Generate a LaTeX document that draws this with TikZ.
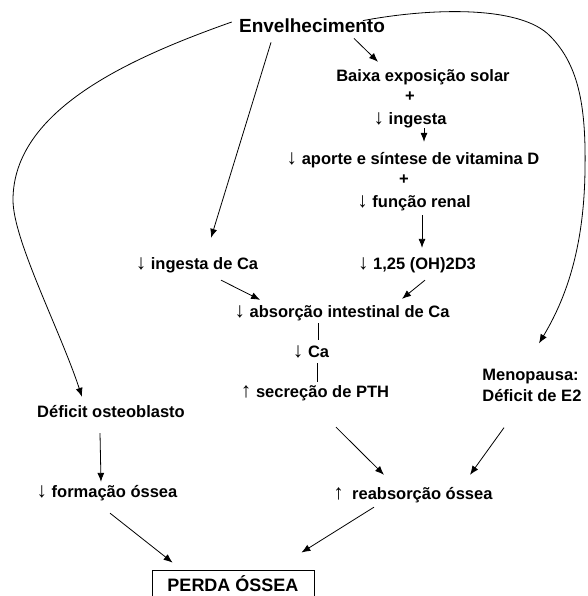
\documentclass[tikz,border=0pt]{standalone}
\usepackage{fontspec}
\setmainfont{Liberation Sans}
\usetikzlibrary{arrows.meta}
\newcommand{\dnarr}{{\mdseries\fontsize{21}{21}\selectfont ↓}}
\newcommand{\uparr}{{\mdseries\fontsize{21}{21}\selectfont ↑}}

\begin{document}
\begin{tikzpicture}[x=1pt,y=-1pt,line width=0.8pt,
	txt/.style={inner sep=0pt, text height=12pt, text depth=3.5pt, font=\bfseries\fontsize{16.5}{21}\selectfont},
	arr/.style={-{Latex[length=9pt,width=7pt]}}]
	\useasboundingbox (0,0) rectangle (587,596);
	\node (env) at (312, 28)	[inner sep=0pt, text height=14pt, text depth=4pt, font=\bfseries\fontsize{19}{22}\selectfont]	{Envelhecimento};
	\node (baixa) at (423, 77)	[txt]	{Baixa exposição solar};
	\node (plus1) at (410, 97)	[txt]	{+};
	\node (ingesta) at (410, 120)	[txt]	{\dnarr\ ingesta};
	\node (aporte) at (413, 160)	[txt]	{\dnarr\ aporte e síntese de vitamina D};
	\node (plus2) at (404, 180)	[txt]	{+};
	\node (funcao) at (414, 203)	[txt]	{\dnarr\ função renal};
	\node (oh) at (417, 265)	[txt]	{\dnarr\ 1,25 (OH)2D3};
	\node (ingca) at (197, 265)	[txt]	{\dnarr\ ingesta de Ca};
	\node (absorcao) at (342, 313)	[txt]	{\dnarr\ absorção intestinal de Ca};
	\node (ca) at (311, 353)	[txt]	{\dnarr\ Ca};
	\node (pth) at (315, 393)	[txt]	{\uparr\ secreção de PTH};
	\node (meno) at (482, 385)	[inner sep=0pt, anchor=west, align=left, font=\bfseries\fontsize{16.5}{21}\selectfont]	{Menopausa:\\Déficit de E2};
	\node (osteo) at (111, 413)	[txt]	{Déficit osteoblasto};
	\node (formacao) at (107, 493)	[txt]	{\dnarr\ formação óssea};
	\node (reab) at (413, 495)	[txt]	{\uparr\hspace{0.5em}reabsorção óssea};
	\node (perda) at (233, 584)	[draw, inner sep=0pt, minimum width=162pt, minimum height=28pt, font=\bfseries\fontsize{18}{22}\selectfont]	{PERDA ÓSSEA};
	\draw[arr] ([xshift=42pt,yshift=-1pt]env.south) -- ([xshift=-45pt,yshift=7pt]baixa.north);
	\draw[arr] ([xshift=-41pt,yshift=-5pt]env.south) -- ([xshift=14pt,yshift=19pt]ingca.north);
	\draw[arr] ([xshift=-7pt,yshift=6pt]env.west) .. controls (130,58) and (13,110) .. (13,200) .. controls (13,240) and (60,330) .. ([xshift=-29pt,yshift=8pt]osteo.north);
	\draw[arr] ([xshift=51pt,yshift=-2pt]env.north) .. controls (430,8) and (520,5) .. (550,36) .. controls (580,66) and (586,110) .. (585,170) .. controls (584,250) and (565,300) .. ([xshift=57pt,yshift=25pt]meno.north west);
	\draw[arr] ([xshift=14pt]ingesta.south) -- ([xshift=11pt,yshift=10pt]aporte.north);
	\draw[arr] ([xshift=8pt,yshift=-4pt]funcao.south) -- ([xshift=5pt,yshift=9pt]oh.north);
	\draw[arr] ([xshift=24pt,yshift=-7pt]ingca.south) -- ([xshift=26pt,yshift=5pt]absorcao.north west);
	\draw[arr] ([xshift=8pt,yshift=-7pt]oh.south) -- ([xshift=60pt,yshift=6pt]absorcao.north);
	\draw ([xshift=-24pt,yshift=-2pt]absorcao.south) -- ([xshift=7pt,yshift=5pt]ca.north);
	\draw ([xshift=6pt,yshift=-2pt]ca.south) -- ([xshift=2pt,yshift=3pt]pth.north);
	\draw[arr] ([xshift=-11pt,yshift=-12pt]osteo.south) -- ([xshift=-6pt,yshift=3pt]formacao.north);
	\draw[arr] ([xshift=21pt,yshift=-26pt]pth.south) -- ([xshift=-29pt,yshift=12pt]reab.north);
	\draw[arr] ([xshift=22pt,yshift=-26pt]meno.south west) -- ([xshift=57pt,yshift=12pt]reab.north);
	\draw[arr] ([xshift=3pt,yshift=-12pt]formacao.south) -- ([xshift=21pt,yshift=7pt]perda.north west);
	\draw[arr] ([xshift=-39pt,yshift=-4pt]reab.south) -- ([xshift=-13pt,yshift=17pt]perda.north east);
\end{tikzpicture}
\end{document}
